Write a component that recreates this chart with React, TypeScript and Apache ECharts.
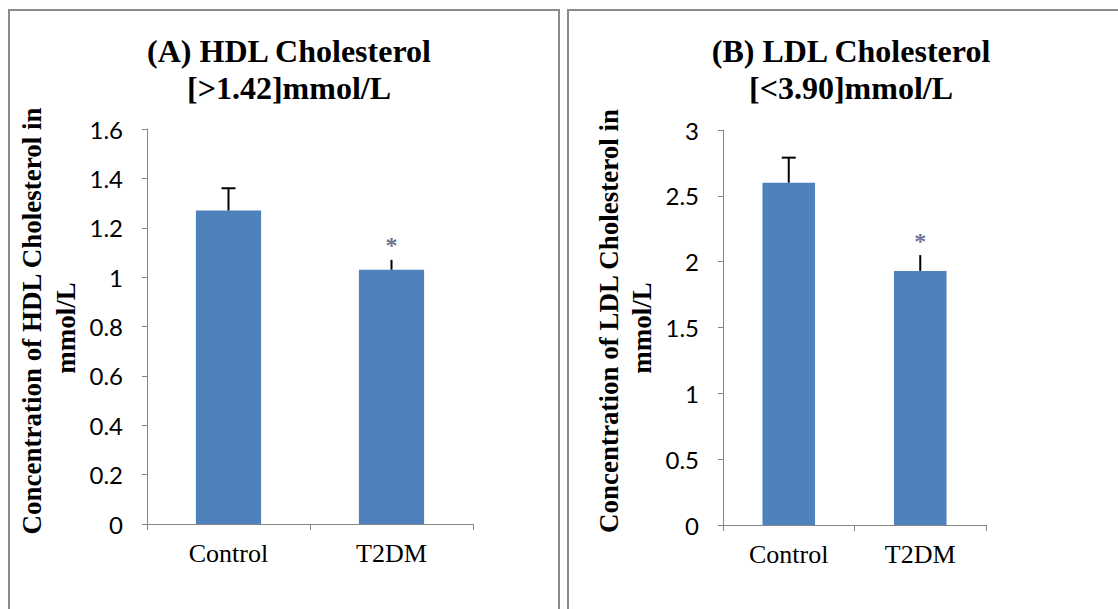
import React, { useEffect, useRef } from "react";
import * as echarts from "echarts";

const categories = ["Control", "T2DM"];

const hdlMeans = [1.27, 1.03];
const hdlErrors = [0.09, 0.04];
const hdlSignificant = [false, true];
const hdlTicks = { min: 0, max: 1.6, interval: 0.2 };

const ldlMeans = [2.6, 1.93];
const ldlErrors = [0.19, 0.12];
const ldlSignificant = [false, true];
const ldlTicks = { min: 0, max: 3, interval: 0.5 };

const titleA = "(A) HDL Cholesterol\n[>1.42]mmol/L";
const titleB = "(B) LDL Cholesterol\n[<3.90]mmol/L";
const yNameA = ["Concentration of HDL Cholesterol in", "mmol/L"];
const yNameB = ["Concentration of LDL Cholesterol in", "mmol/L"];

const BAR_COLOR = "#4F81BD";
const AXIS_COLOR = "#868686";
const SERIF = "'Liberation Serif', 'Times New Roman', serif";
const SANS = "Lato, 'Open Sans', sans-serif";

function errorSeries(gridIdx: number, means: number[], errs: number[]) {
  return {
    type: "custom",
    xAxisIndex: gridIdx,
    yAxisIndex: gridIdx,
    encode: { x: 0, y: 1 },
    data: means.map((m, i) => [i, m, errs[i]]),
    z: 5,
    renderItem: (params: any, api: any) => {
      const x = api.value(0);
      const m = api.value(1);
      const e = api.value(2);
      const base = api.coord([x, m]);
      const top = api.coord([x, m + e]);
      const children: any[] = [
        {
          type: "line",
          shape: { x1: base[0], y1: base[1], x2: top[0], y2: top[1] },
          style: { stroke: "#000", lineWidth: 2 },
        },
      ];
      if (params.dataIndex === 0) {
        children.push({
          type: "line",
          shape: { x1: top[0] - 7, y1: top[1], x2: top[0] + 7, y2: top[1] },
          style: { stroke: "#000", lineWidth: 2 },
        });
      }
      return { type: "group", children };
    },
  };
}

function starSeries(gridIdx: number, means: number[], errs: number[], sig: boolean[]) {
  return {
    type: "scatter",
    xAxisIndex: gridIdx,
    yAxisIndex: gridIdx,
    symbolSize: 1,
    itemStyle: { color: "rgba(0,0,0,0)" },
    z: 6,
    data: means
      .map((m, i) => (sig[i] ? [i, m + errs[i]] : null))
      .filter((d) => d !== null),
    label: {
      show: true,
      position: "top",
      distance: 2,
      formatter: "*",
      fontFamily: SERIF,
      fontWeight: "bold",
      fontSize: 24,
      color: "#4a4a78",
    },
  };
}

function yAxis(gridIdx: number, t: { min: number; max: number; interval: number }) {
  return {
    gridIndex: gridIdx,
    type: "value",
    min: t.min,
    max: t.max,
    interval: t.interval,
    axisLine: { show: true, lineStyle: { color: AXIS_COLOR, width: 1 } },
    axisTick: { show: true, length: 5, lineStyle: { color: AXIS_COLOR } },
    splitLine: { show: false },
    axisLabel: { margin: 24, fontFamily: SANS, fontSize: 24, color: "#000" },
  };
}

function xAxis(gridIdx: number) {
  return {
    gridIndex: gridIdx,
    type: "category",
    data: categories,
    axisLine: { show: true, lineStyle: { color: AXIS_COLOR, width: 1 } },
    axisTick: { show: true, length: 6, alignWithLabel: false, lineStyle: { color: AXIS_COLOR } },
    axisLabel: { margin: 16, fontFamily: SERIF, fontSize: 26, color: "#000" },
  };
}

function yNameText(x: number, y: number, text: string) {
  return {
    type: "text",
    x,
    y,
    rotation: Math.PI / 2,
    style: {
      text,
      fontFamily: SERIF,
      fontWeight: "bold",
      fontSize: 27,
      fill: "#000",
      align: "center",
      verticalAlign: "middle",
      textAlign: "center",
      textVerticalAlign: "middle",
    },
  };
}

export default function App() {
  const ref = useRef<HTMLDivElement>(null);
  useEffect(() => {
    if (!ref.current) return;
    const chart = echarts.init(ref.current, undefined, { renderer: "svg" });
    const titleStyle = {
      fontFamily: SERIF,
      fontWeight: "bold",
      fontSize: 32,
      lineHeight: 37,
      color: "#000",
    };
    chart.setOption({
      animation: false,
      backgroundColor: "#fff",
      title: [
        { text: titleA, left: 284, top: 27, textAlign: "center", textStyle: titleStyle },
        { text: titleB, left: 846, top: 27, textAlign: "center", textStyle: titleStyle },
      ],
      grid: [
        { left: 147, top: 129, width: 326, height: 395 },
        { left: 723, top: 130, width: 263, height: 395 },
      ],
      xAxis: [xAxis(0), xAxis(1)],
      yAxis: [yAxis(0, hdlTicks), yAxis(1, ldlTicks)],
      series: [
        {
          type: "bar",
          xAxisIndex: 0,
          yAxisIndex: 0,
          data: hdlMeans,
          barCategoryGap: "60%",
          itemStyle: { color: BAR_COLOR },
        },
        errorSeries(0, hdlMeans, hdlErrors),
        starSeries(0, hdlMeans, hdlErrors, hdlSignificant),
        {
          type: "bar",
          xAxisIndex: 1,
          yAxisIndex: 1,
          data: ldlMeans,
          barCategoryGap: "60%",
          itemStyle: { color: BAR_COLOR },
        },
        errorSeries(1, ldlMeans, ldlErrors),
        starSeries(1, ldlMeans, ldlErrors, ldlSignificant),
      ],
      graphic: [
        {
          type: "rect",
          shape: { x: 9, y: 10, width: 550, height: 620 },
          style: { fill: "none", stroke: "#8a8a8a", lineWidth: 2 },
          z: -1,
        },
        {
          type: "rect",
          shape: { x: 568, y: 10, width: 560, height: 620 },
          style: { fill: "none", stroke: "#8a8a8a", lineWidth: 2 },
          z: -1,
        },
        yNameText(32, 321, yNameA[0]),
        yNameText(66, 328, yNameA[1]),
        yNameText(609, 321, yNameB[0]),
        yNameText(642, 328, yNameB[1]),
      ],
    });
    return () => chart.dispose();
  }, []);
  return (
    <div
      ref={ref}
      style={{ position: "fixed", left: 0, top: 0, width: 1118, height: 609 }}
    />
  );
}
